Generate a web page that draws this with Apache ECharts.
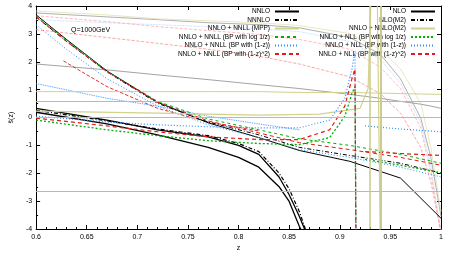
<!DOCTYPE html>
<html>
<head>
<meta charset="utf-8">
<script src="https://cdn.jsdelivr.net/npm/echarts@6/dist/echarts.min.js"></script>
<style>html,body{margin:0;padding:0;background:#fff}#c{width:450px;height:257px}</style>
</head>
<body>
<div id="c"></div>
<script>
// ---- data ----
const xTicks = [0.6, 0.65, 0.7, 0.75, 0.8, 0.85, 0.9, 0.95, 1];
const yTicks = [-4, -3, -2, -1, 0, 1, 2, 3, 4];

// descending bundle (left legend)
const zB = [0.60, 0.63, 0.67, 0.72, 0.77, 0.82, 0.86, 0.91, 0.96, 1.00];
const bNNLO  = [3.68, 2.80, 1.67, 0.55, -0.19, -0.72, -1.18, -1.57, -2.17, -3.61];
const bNNNLO = [3.61, 2.73, 1.64, 0.51, -0.16, -0.62, -1.07, -1.36, -1.64, -1.99];
const bMPP   = [0.93, 0.93, 0.93, 0.93, 0.93, 0.93, 0.90, 0.90, 0.86, 0.83];
const bLog   = [3.65, 2.77, 1.67, 0.58, -0.05, -0.44, -0.76, -1.00, -1.32, -1.64];
const bLin   = [3.33, 2.45, 1.39, 0.41, -0.26, -0.72, -1.15, -1.43, -1.78, -2.13];
const bSq    = [3.61, 2.73, 1.64, 0.55, -0.12, -0.55, -0.90, -1.15, -1.43, -1.71];

// plunging black curves (right legend NLO / NLO(M2))
const zP = [0.60, 0.67, 0.72, 0.77, 0.80, 0.82, 0.84, 0.85, 0.86, 0.87];
const pNLO   = [0.33, -0.09, -0.44, -0.69, -1.00, -1.32, -2.13, -2.77, -3.54, -4.42];
const pNLOM2 = [0.26, -0.12, -0.41, -0.65, -0.93, -1.22, -1.99, -2.56, -3.37, -4.42];
const pNLO2  = [0.19, -0.23, -0.62, -1.07, -1.43, -1.78, -2.48, -3.01, -3.90, -4.60];

// curves with the spike (right legend)
const zA = [0.60, 0.67, 0.72, 0.77, 0.82, 0.86, 0.89, 0.905, 0.912, 0.915, 0.916, 0.917, 0.925, 0.96, 1.00];
const aLin = [0.05, -0.16, -0.26, -0.33, -0.37, -0.37, -0.09, 0.69, 1.74, 2.38, -4.6, null, -0.30, -0.41, -0.51];
const aSq  = [-0.02, -0.30, -0.51, -0.69, -0.79, -0.79, -0.44, 0.41, 1.39, 1.74, -4.6, null, -1.22, -1.29, -1.36];
const aLog = [-0.09, -0.44, -0.65, -0.83, -0.93, -0.97, -0.72, 0.05, 0.86, 1.11, -4.6, null, -1.50, -1.71, -1.99];
const zK = [0.60, 0.72, 0.82, 0.88, 0.92, 0.928, 0.931, 0.937, 0.940];
const aMPP = [0.23, 0.16, 0.09, 0.12, 0.33, 1.04, 4.5, 4.5, -4.5];

// faint curves from the top
const zC = [0.60, 0.67, 0.72, 0.77, 0.82, 0.86, 0.91, 0.94, 0.96, 0.98, 0.99, 1.00];
const cGray  = [3.75, 3.61, 3.51, 3.40, 3.33, 3.22, 2.87, 2.27, 1.39, -0.02, -1.43, -3.54];
const cPink  = [3.65, 3.44, 3.26, 3.12, 2.98, 2.80, 2.45, 1.81, 1.04, -0.37, -1.96, -4.25];
const cKhaki = [3.82, 3.68, 3.54, 3.47, 3.40, 3.30, 3.01, 2.45, 1.74, 0.51, -1.07, -3.37];
const cBlue  = [3.51, 3.40, 3.33, 3.26, 3.19, 3.08, 2.73, 2.10, 1.22, -0.19, -1.78, -4.07];
const cPink2 = [3.15, 2.87, 2.66, 2.45, 2.20, 1.92, 1.46, 0.86, 0.16, -1.07, -2.31, -4.07];
const cGray2 = [1.92, 1.71, 1.53, 1.36, 1.18, 1.04, 0.83, 0.69, 0.58, 0.48, 0.41, 0.33];
const zS = [0.627, 0.67, 0.72, 0.77, 0.82];
const sRed = [2.03, 1.11, 0.33, -0.16, -0.48];
const zM = [0.60, 0.67, 0.72, 0.77, 0.82, 0.86];
const mBlue = [1.22, 0.69, 0.41, 0.05, -0.23, -0.44];

const hRefLines = [0.58, 0, -2.66];
const vRefLines = [0.932, 0.935, 0.939];

const leftNames = ['NNLO', 'NNNLO', 'NNLO + NNLL (MPP)', 'NNLO + NNLL (BP with log 1/z)', 'NNLO + NNLL (BP with (1-z))', 'NNLO + NNLL (BP with (1-z)^2)'];
const rightNames = ['NLO', 'NLO(M2)', 'NNLO + NNLO(M2)', 'NNLO + NLL (BP with log 1/z)', 'NNLO + NLL (BP with (1-z))', 'NNLO + NLL (BP with (1-z)^2)'];

// ---- build ----
const zip = (xs, ys) => xs.map((x, i) => [x, ys[i]]);
const GREEN = '#00b000', BLUE = '#2a8cff', RED = '#e41a1c', KHAKI = '#d2d28c';
function line(name, xs, ys, color, type, width, extra) {
  return Object.assign({
    name, type: 'line', data: zip(xs, ys), symbol: 'none', connectNulls: false,
    silent: true, animation: false,
    lineStyle: { color, type, width }, itemStyle: { color }
  }, extra || {});
}
const series = [
  line('c1', zC, cGray, '#9a9a9a', 'solid', 0.8),
  line('c2', zC, cPink, '#ffa8a8', 'dashed', 0.8),
  line('c3', zC, cKhaki, '#e2e2b0', 'solid', 0.8),
  line('c4', zC, cBlue, '#a8d0ff', 'dotted', 0.8),
  line('c5', zC, cPink2, '#ff8f8f', 'dashed', 0.8),
  line('c6', zC, cGray2, '#8c8c8c', 'solid', 0.8),
  line('c7', zS, sRed, RED, 'dashed', 0.9),
  line('c8', zM, mBlue, BLUE, 'dotted', 0.9),
  line('ref', [], [], '#bbb', 'solid', 1, {
    markLine: { silent: true, symbol: 'none', label: { show: false }, animation: false,
      data: hRefLines.map(v => ({ yAxis: v, lineStyle: { color: '#b8b8b8', type: 'solid', width: 1 } }))
        .concat(vRefLines.map(v => ({ xAxis: v, lineStyle: { color: '#c8c88a', type: 'solid', width: 1.5 } }))) }
  }),
  line(leftNames[0], zB, bNNLO, '#000', 'solid', 1),
  line(leftNames[1], zB, bNNNLO, '#000', [4, 2, 1, 2], 1),
  line(leftNames[2], zB, bMPP, KHAKI, 'solid', 1),
  line(leftNames[3], zB, bLog, GREEN, [3, 3], 1),
  line(leftNames[4], zB, bLin, BLUE, [1, 2], 1),
  line(leftNames[5], zB, bSq, RED, [4, 3], 1),
  line(rightNames[0], zP, pNLO, '#000', 'solid', 1.3),
  line(rightNames[1], zP, pNLOM2, '#000', [4, 2, 1, 2], 1.2),
  line('NLO2', zP, pNLO2, '#000', 'solid', 1.3),
  line(rightNames[2], zK, aMPP, KHAKI, 'solid', 1.2),
  line(rightNames[3], zA, aLog, GREEN, [2, 2], 1.3),
  line(rightNames[4], zA, aLin, BLUE, [1, 2], 1.2),
  line(rightNames[5], zA, aSq, RED, [4, 3], 1.2)
];

const font = 'Liberation Sans, DejaVu Sans, sans-serif';
const legendCommon = {
  orient: 'vertical', top: 8, align: 'right', itemWidth: 24, itemHeight: 5, itemGap: 1.5,
  textStyle: { fontSize: 6.5, fontFamily: font, color: '#000', padding: [0, 0, 0, 0] },
  itemStyle: { opacity: 0 },
  selectedMode: false, padding: 0
};
const axLine = { show: true, onZero: false, lineStyle: { color: '#000', width: 1 } };
const chart = echarts.init(document.getElementById('c'), null, { renderer: 'canvas' });
chart.setOption({
  animation: false,
  backgroundColor: '#fff',
  title: { text: 'Q=1000GeV', left: 66, top: 22, textStyle: { fontSize: 7, fontWeight: 'normal', fontFamily: font, color: '#000' } },
  legend: [
    Object.assign({}, legendCommon, { right: 150, data: leftNames }),
    Object.assign({}, legendCommon, { right: 14, data: rightNames })
  ],
  grid: { left: 33, right: 9, top: 6, bottom: 24, containLabel: false },
  xAxis: [
    { type: 'value', min: 0.6, max: 1, interval: 0.05, name: 'z', nameLocation: 'middle', nameGap: 15,
      nameTextStyle: { fontSize: 7, fontFamily: font, color: '#000' },
      axisLine: axLine,
      axisTick: { show: true, inside: true, length: 4, lineStyle: { color: '#000' } },
      minorTick: { show: true, splitNumber: 5, length: 2, lineStyle: { color: '#000' } },
      axisLabel: { fontSize: 7, fontFamily: font, color: '#000', margin: 4,
        formatter: v => { const t = xTicks.find(x => Math.abs(x - v) < 1e-6); return t === undefined ? '' : String(t); } },
      splitLine: { show: false } },
    { type: 'value', min: 0.6, max: 1, interval: 0.05, position: 'top',
      axisLine: axLine,
      axisTick: { show: true, inside: true, length: 4, lineStyle: { color: '#000' } },
      axisLabel: { show: false }, splitLine: { show: false } }
  ],
  yAxis: [
    { type: 'value', min: -4, max: 4, interval: 1, name: 'ŝ(z)', nameLocation: 'middle', nameGap: 20,
      nameTextStyle: { fontSize: 7, fontFamily: font, color: '#000' },
      axisLine: axLine,
      axisTick: { show: true, inside: true, length: 4, lineStyle: { color: '#000' } },
      minorTick: { show: true, splitNumber: 2, length: 2, lineStyle: { color: '#000' } },
      axisLabel: { fontSize: 7, fontFamily: font, color: '#000', margin: 4,
        formatter: v => { const t = yTicks.find(y => Math.abs(y - v) < 1e-6); return t === undefined ? '' : String(t); } },
      splitLine: { show: false } },
    { type: 'value', min: -4, max: 4, interval: 1, position: 'right',
      axisLine: axLine,
      axisTick: { show: true, inside: true, length: 4, lineStyle: { color: '#000' } },
      axisLabel: { show: false }, splitLine: { show: false } }
  ],
  series: series
});
</script>
</body>
</html>
